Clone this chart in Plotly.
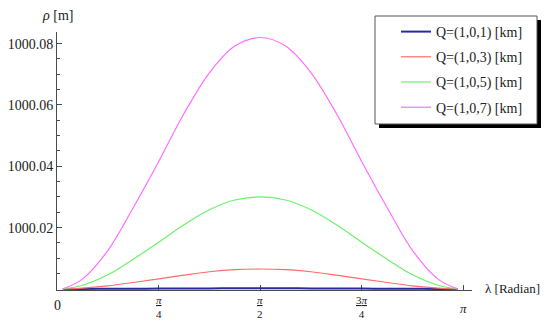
import math
import plotly.graph_objects as go

# ---- data ----
lam = [0.045, math.pi/16, 2*math.pi/16, 3*math.pi/16, 4*math.pi/16, 5*math.pi/16,
       6*math.pi/16, 7*math.pi/16, 8*math.pi/16, 9*math.pi/16, 10*math.pi/16,
       11*math.pi/16, 12*math.pi/16, 13*math.pi/16, 14*math.pi/16, 15*math.pi/16,
       math.pi - 0.045]

rho_q1 = [1000.0, 1000.00001, 1000.00003, 1000.00007, 1000.00010, 1000.00014, 1000.00017,
          1000.00019, 1000.00020, 1000.00019, 1000.00017, 1000.00014, 1000.00010,
          1000.00007, 1000.00003, 1000.00001, 1000.0]
rho_q3 = [1000.0, 1000.00025, 1000.0010, 1000.0021, 1000.0033, 1000.0045, 1000.0056,
          1000.0063, 1000.0065, 1000.0063, 1000.0056, 1000.0045, 1000.0033,
          1000.0021, 1000.0010, 1000.00025, 1000.0]
rho_q5 = [1000.0, 1000.0012, 1000.0046, 1000.0097, 1000.0152, 1000.0209, 1000.0258,
          1000.0290, 1000.0300, 1000.0290, 1000.0258, 1000.0209, 1000.0152,
          1000.0097, 1000.0046, 1000.0012, 1000.0]
rho_q7 = [1000.0, 1000.0032, 1000.0125, 1000.0265, 1000.0415, 1000.0572, 1000.0705,
          1000.0792, 1000.0820, 1000.0792, 1000.0705, 1000.0572, 1000.0415,
          1000.0265, 1000.0125, 1000.0032, 1000.0]

series_names = ["Q=(1,0,1) [km]", "Q=(1,0,3) [km]", "Q=(1,0,5) [km]", "Q=(1,0,7) [km]"]
series_colors = ["#2a2aa0", "#ff6b6b", "#6cf06c", "#ff6eff"]

x_tickvals = [0, math.pi/4, math.pi/2, 3*math.pi/4, math.pi]
x_ticktext = ["0", "<u><i>π</i></u><br>4", "<u><i>π</i></u><br>2",
              "<u>3<i>π</i></u><br>4", "<i>π</i>"]
y_tickvals = [1000.02, 1000.04, 1000.06, 1000.08]
y_ticktext = ["1000.02", "1000.04", "1000.06", "1000.08"]
y_minor = [1000.005, 1000.010, 1000.015, 1000.025, 1000.030, 1000.035,
           1000.045, 1000.050, 1000.055, 1000.065, 1000.070, 1000.075]

FONT = "Liberation Serif"
AX = "#4a4a4a"

fig = go.Figure()
for name, ys, col in zip(series_names, [rho_q1, rho_q3, rho_q5, rho_q7], series_colors):
    fig.add_trace(go.Scatter(
        x=lam, y=ys, mode="lines", name=name, legendgroup=name,
        line=dict(color=col, width=2 if col == "#2a2aa0" else 1.2, shape="spline", smoothing=1.0),
    ))

# plot area in window pixels: x 57..472, y 32..290 (page body has an 8px margin)
def px_x(p):
    return (p - 57) / 415.0

def px_y(p):
    return (290 - p) / 258.0

shapes = [
    dict(type="rect", xref="paper", yref="paper",
         x0=px_x(379), x1=px_x(541), y0=px_y(128), y1=px_y(20),
         fillcolor="black", line=dict(width=0), layer="above"),
    dict(type="rect", xref="paper", yref="paper",
         x0=px_x(375), x1=px_x(537), y0=px_y(124), y1=px_y(16),
         fillcolor="white", line=dict(color="#555555", width=1), layer="above"),
]

annotations = [
    dict(text="<i>ρ</i> [m]", xref="paper", yref="paper", x=0, y=px_y(15),
         xanchor="center", yanchor="middle", showarrow=False,
         font=dict(family=FONT, size=14, color="#222")),
    dict(text="λ [Radian]", xref="paper", yref="paper", x=px_x(483), y=px_y(288),
         xanchor="left", yanchor="middle", showarrow=False,
         font=dict(family=FONT, size=13, color="#222")),
]
for v, t in zip(x_tickvals, x_ticktext):
    frac = "<br>" in t
    annotations.append(dict(
        text=t, xref="x", yref="paper", x=v, y=px_y(307 if frac else 305 if t == "0" else 308),
        xanchor="center", yanchor="middle", showarrow=False,
        font=dict(family=FONT, size=11 if frac else (14 if t == "0" else 13), color="#222")))

fig.update_layout(
    width=542, height=317,
    margin=dict(l=49, r=78, t=24, b=35, autoexpand=False),
    paper_bgcolor="white", plot_bgcolor="white",
    showlegend=True,
    legend=dict(x=px_x(396), y=px_y(16), xanchor="left", yanchor="top",
                bgcolor="rgba(0,0,0,0)", borderwidth=0, tracegroupgap=4,
                font=dict(family=FONT, size=14, color="#222"), itemwidth=30),
    shapes=shapes,
    annotations=annotations,
    xaxis=dict(range=[0, 3.208], showgrid=False, zeroline=False, automargin=False,
               showline=True, linecolor=AX, linewidth=1,
               tickvals=x_tickvals, ticks="inside", ticklen=5, tickcolor=AX,
               showticklabels=False, layer="below traces"),
    yaxis=dict(range=[999.99965, 1000.0838], showgrid=False, zeroline=False, automargin=False,
               showline=True, linecolor=AX, linewidth=1,
               tickvals=y_tickvals, ticktext=y_ticktext, ticks="inside", ticklen=5,
               tickcolor=AX, tickfont=dict(family=FONT, size=14, color="#222"),
               minor=dict(tickvals=y_minor, ticks="inside", ticklen=3, tickcolor=AX),
               layer="below traces"),
)

fig.write_html("out.html")
